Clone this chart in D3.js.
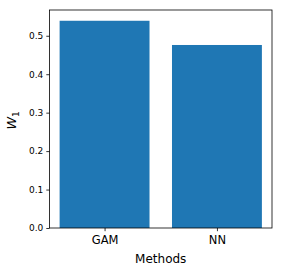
<!DOCTYPE html>
<html><head><meta charset="utf-8">
<script src="https://cdn.jsdelivr.net/npm/d3@7"></script>
<style>body{margin:0;background:#fff}svg{display:block}text{font-family:"DejaVu Sans",sans-serif;fill:#000}</style>
</head><body><div id="c"></div>
<script>
const categories = ["GAM", "NN"];
const values = [0.539, 0.476];
const yTicks = [0, 0.1, 0.2, 0.3, 0.4, 0.5];
const xLabel = "Methods";

const W = 283, H = 272;
const m = {left: 49.5, right: 272, top: 10, bottom: 228};
const svg = d3.select("#c").append("svg").attr("width", W).attr("height", H);

const x = d3.scaleLinear().domain([-0.49, categories.length - 1 + 0.49]).range([m.left, m.right]);
const y = d3.scaleLinear().domain([0, 0.567]).range([m.bottom, m.top]);
const bw = 0.8;

svg.append("g").selectAll("rect").data(values).join("rect")
  .attr("x", (d, i) => x(i - bw / 2))
  .attr("width", (d, i) => x(i + bw / 2) - x(i - bw / 2))
  .attr("y", d => y(d))
  .attr("height", d => y(0) - y(d))
  .attr("fill", "#1f77b4");

const yAxis = d3.axisLeft(y).tickValues(yTicks).tickFormat(d3.format(".1f")).tickSize(3.2).tickPadding(3);
const gy = svg.append("g").attr("transform", `translate(${m.left},0)`).call(yAxis);
gy.select(".domain").remove();
gy.selectAll("text").style("font-size", "9px");
gy.selectAll("line").attr("stroke", "#000").attr("stroke-width", 0.8);

const xAxis = d3.axisBottom(x).tickValues(categories.map((d, i) => i)).tickFormat(i => categories[i]).tickSize(3.2).tickPadding(4.5);
const gx = svg.append("g").attr("transform", `translate(0,${m.bottom})`).call(xAxis);
gx.select(".domain").remove();
gx.selectAll("text").style("font-size", "11.5px");
gx.selectAll("line").attr("stroke", "#000").attr("stroke-width", 0.8);

svg.append("rect").attr("x", m.left).attr("y", m.top)
  .attr("width", m.right - m.left).attr("height", m.bottom - m.top)
  .attr("fill", "none").attr("stroke", "#000").attr("stroke-width", 0.8);

svg.append("text").attr("x", (m.left + m.right) / 2).attr("y", 263)
  .attr("text-anchor", "middle").style("font-size", "12px").text(xLabel);

const yl = svg.append("text").attr("transform", `translate(16,129.5) rotate(-90)`)
  .attr("text-anchor", "start").style("font-size", "12.7px");
yl.append("tspan").style("font-style", "italic").text("W");
yl.append("tspan").attr("dy", 2.5).style("font-size", "9px").text("1");
</script></body></html>
